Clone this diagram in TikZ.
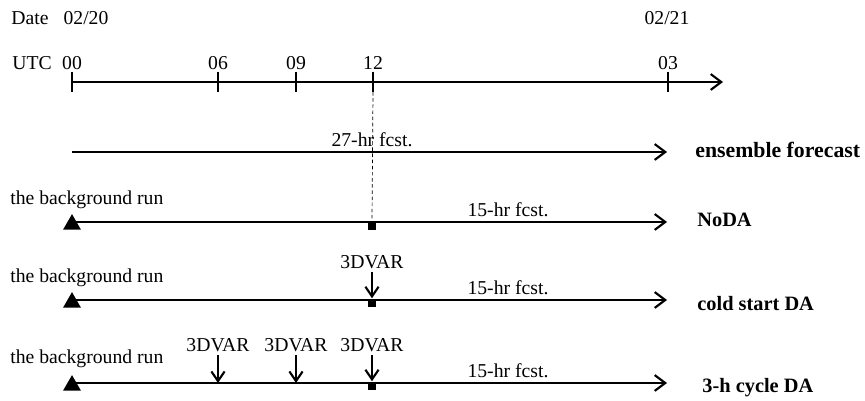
\documentclass[tikz,border=0pt]{standalone}
\usepackage{fontspec}
\setmainfont{Liberation Serif}
\usetikzlibrary{arrows.meta}
\usetikzlibrary{shapes.geometric}

\begin{document}
\begin{tikzpicture}[x=0.02cm, y=-0.02cm,
		every node/.style={font=\fontsize{11.2}{13}\selectfont, inner sep=0pt},
		runline/.style={line width=1.2pt, -{Straight Barb[length=6pt,width=9pt]}},
		tickmark/.style={line width=0.8pt},
		dnarrow/.style={line width=1.2pt, -{Straight Barb[length=5.5pt,width=7.5pt]}},
		bgrun/.style={regular polygon, regular polygon sides=3, fill=black, minimum size=11.8pt},
		anamark/.style={rectangle, fill=black, minimum size=5pt},
		expname/.style={font=\fontsize{11.6}{13}\selectfont\bfseries, anchor=base west}]
	\useasboundingbox (0,0) rectangle (865,401);

	% Time axis
	\node[anchor=base west] (date) at (11,25) {Date};
	\node[anchor=base] (d20) at (86,25) {02/20};
	\node[anchor=base] (d21) at (667,25) {02/21};
	\node[anchor=base west] (utc) at (12,70) {UTC};
	\coordinate (ax0) at (72,82);
	\coordinate (ax1) at (723,82);
	\draw[runline] (ax0) -- (ax1);
	\foreach \x/\hr in {72/00,218/06,296/09,373/12,668/03} {
		\node[anchor=base] (h\hr) at (\x,70) {\hr};
		\draw[tickmark] (\x,72) -- (\x,92) coordinate (k\hr);
	}

	% ensemble forecast
	\coordinate (s1) at (72,152);
	\coordinate (e1) at (667,152);
	\draw[runline] (s1) -- (e1);
	\node[anchor=base] (f27) at (372,147) {27-hr fcst.};
	\node[expname, font=\fontsize{12.4}{13}\selectfont\bfseries] (ens) at (695,158) {ensemble forecast};

	% NoDA
	\node[anchor=base west] (bg2) at (10,205) {the background run};
	\coordinate (s2) at (72,222);
	\coordinate (e2) at (667,222);
	\draw[runline] (s2) -- (e2);
	\node[bgrun] (t2) at (72,224.5) {};
	\node[anamark] (a2) at (372,226) {};
	\draw[dashed, thin, dash pattern=on 2pt off 1.5pt] (k12) -- (a2.north);
	\node[anchor=base] (f2) at (508,217) {15-hr fcst.};
	\node[expname] (noda) at (697,227) {NoDA};

	% cold start DA
	\node[anchor=base west] (bg3) at (10,283) {the background run};
	\coordinate (s3) at (72,300);
	\coordinate (e3) at (667,300);
	\draw[runline] (s3) -- (e3);
	\node[bgrun] (t3) at (72,302.5) {};
	\node[anamark] (a3) at (372,303) {};
	\node[anchor=base] (v3) at (372,269) {3DVAR};
	\draw[dnarrow] ([yshift=-1.5pt]v3.south) -- (a3.north);
	\node[anchor=base] (f3) at (508,295) {15-hr fcst.};
	\node[expname] (cold) at (697,311) {cold start DA};

	% 3-h cycle DA
	\node[anchor=base west] (bg4) at (10,364) {the background run};
	\coordinate (s4) at (72,383);
	\coordinate (e4) at (667,383);
	\draw[runline] (s4) -- (e4);
	\node[bgrun] (t4) at (72,385.5) {};
	\node[anamark] (a4) at (372,386) {};
	\coordinate (c06) at (218,383);
	\coordinate (c09) at (296,383);
	\node[anchor=base] (v06) at (218,352) {3DVAR};
	\node[anchor=base] (v09) at (296,352) {3DVAR};
	\node[anchor=base] (v12) at (372,352) {3DVAR};
	\draw[dnarrow] ([yshift=-1.5pt]v06.south) -- (c06);
	\draw[dnarrow] ([yshift=-1.5pt]v09.south) -- (c09);
	\draw[dnarrow] ([yshift=-1.5pt]v12.south) -- (a4.north);
	\node[anchor=base] (f4) at (508,378) {15-hr fcst.};
	\node[expname] (cycle) at (702,393) {3-h cycle DA};
\end{tikzpicture}
\end{document}
